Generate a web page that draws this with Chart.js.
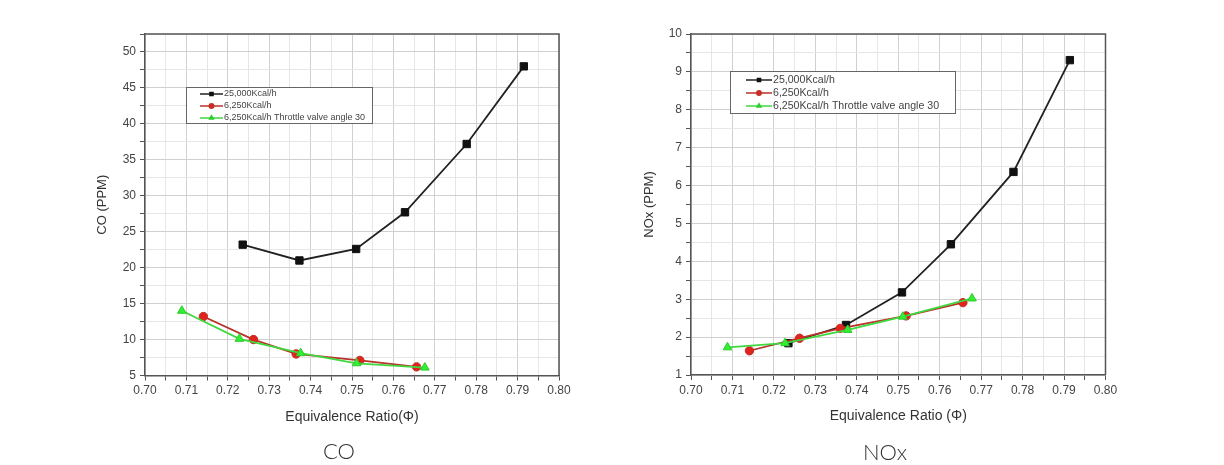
<!DOCTYPE html>
<html>
<head>
<meta charset="utf-8">
<script src="https://cdn.jsdelivr.net/npm/chart.js@4/dist/chart.umd.min.js"></script>
<style>
  body { margin: 0; background: #fff; width: 1224px; height: 465px; overflow: hidden; position: relative; }
  canvas { position: absolute; top: 0; }
  #coChart { left: 0; }
  #noxChart { left: 612px; }
  .cap { position: absolute; font-family: Lato, "Noto Sans", sans-serif; font-weight: 300; font-size: 22px; color: #333; transform: translate(-50%, -50%); }
</style>
</head>
<body>
<canvas id="coChart" width="612" height="465"></canvas>
<canvas id="noxChart" width="612" height="465"></canvas>
<div class="cap" style="left:339px;top:450px">CO</div>
<div class="cap" style="left:885px;top:451px">NOx</div>
<script>
// series labels
const seriesNames = ['25,000Kcal/h', '6,250Kcal/h', '6,250Kcal/h Throttle valve angle 30'];

// CO chart
const coPhi25 = [0.7236, 0.7373, 0.7510, 0.7628, 0.7777, 0.7915];
const co25 = [23.2, 21.0, 22.6, 27.7, 37.2, 48.0];
const coPhi6 = [0.7141, 0.7262, 0.7365, 0.7519, 0.7656];
const co6 = [13.2, 10.0, 8.0, 7.1, 6.2];
const coPhiTh = [0.7089, 0.7228, 0.7376, 0.7511, 0.7676];
const coTh = [14.0, 10.1, 8.1, 6.7, 6.1];

// NOx chart
const noxPhi25 = [0.7235, 0.7374, 0.7509, 0.7627, 0.7778, 0.7914];
const nox25 = [1.84, 2.32, 3.18, 4.45, 6.36, 9.31];
const noxPhi6 = [0.7141, 0.7262, 0.7360, 0.7519, 0.7656];
const nox6 = [1.64, 1.97, 2.23, 2.56, 2.91];
const noxPhiTh = [0.7088, 0.7227, 0.7378, 0.7511, 0.7678];
const noxTh = [1.73, 1.84, 2.19, 2.54, 3.02];

const pts = (xs, ys) => xs.map((x, i) => ({ x: x, y: ys[i] }));

const FONT = '"Liberation Sans", Arial, sans-serif';

// frame on top/right + legend box inside the plot
const framePlugin = {
  id: 'frame',
  afterDraw(chart) {
    const { ctx, chartArea: a } = chart;
    ctx.save();
    ctx.strokeStyle = '#555';
    ctx.lineWidth = 1.5;
    ctx.beginPath();
    ctx.moveTo(a.left, a.top);
    ctx.lineTo(a.right, a.top);
    ctx.lineTo(a.right, a.bottom);
    ctx.stroke();

    const lg = chart.options.plugins.boxLegend;
    ctx.fillStyle = '#fff';
    ctx.fillRect(lg.x, lg.y, lg.w, lg.h);
    ctx.strokeStyle = '#666';
    ctx.lineWidth = 1;
    ctx.strokeRect(lg.x + 0.5, lg.y + 0.5, lg.w, lg.h);
    ctx.font = lg.size + 'px ' + FONT;
    ctx.textBaseline = 'middle';
    chart.data.datasets.forEach((ds, i) => {
      const y = lg.y + lg.first + i * lg.row;
      const x0 = lg.x + lg.lineX;
      ctx.strokeStyle = ds.borderColor;
      ctx.lineWidth = 1.5;
      ctx.beginPath();
      ctx.moveTo(x0, y);
      ctx.lineTo(x0 + lg.lineLen, y);
      ctx.stroke();
      ctx.fillStyle = ds.pointBackgroundColor;
      ctx.strokeStyle = ds.pointBorderColor;
      Chart.helpers.drawPoint(ctx, { pointStyle: ds.pointStyle, radius: 2.2, borderWidth: 1 }, x0 + lg.lineLen / 2, y);
      ctx.fillStyle = '#444';
      ctx.fillText(ds.label, x0 + lg.lineLen + 1, y);
    });
    ctx.restore();
  }
};

function makeDatasets(d) {
  return [
    { label: seriesNames[0], data: d[0], borderColor: '#222', backgroundColor: '#111',
      pointBackgroundColor: '#111', pointBorderColor: '#111', pointStyle: 'rect', pointRadius: 5.2, order: 3 },
    { label: seriesNames[1], data: d[1], borderColor: '#b8322a', backgroundColor: '#e0231c',
      pointBackgroundColor: '#e0231c', pointBorderColor: '#c0302a', pointStyle: 'circle', pointRadius: 4.2, order: 2 },
    { label: seriesNames[2], data: d[2], borderColor: '#3fd83f', backgroundColor: '#33ee33',
      pointBackgroundColor: '#33ee33', pointBorderColor: '#2ccc2c', pointStyle: 'triangle', pointRadius: 5, order: 1 }
  ].map(ds => Object.assign(ds, { showLine: true, borderWidth: 1.8, pointBorderWidth: 1, tension: 0 }));
}

function makeChart(id, cfg) {
  const isMajorX = v => Math.round(v * 1000) % 10 === 0;
  return new Chart(document.getElementById(id), {
    type: 'scatter',
    data: { datasets: makeDatasets(cfg.data) },
    options: {
      responsive: false,
      animation: false,
      layout: { padding: cfg.padding },
      plugins: { legend: { display: false }, tooltip: { enabled: false }, boxLegend: cfg.legend },
      scales: {
        x: {
          type: 'linear', min: 0.70, max: 0.80,
          afterFit: s => { s.height = 50; },
          ticks: {
            stepSize: 0.005, maxTicksLimit: 1000, autoSkip: false, maxRotation: 0,
            color: '#444', font: { family: FONT, size: 12 }, padding: 3,
            callback: v => isMajorX(v) ? v.toFixed(2) : ''
          },
          grid: {
            color: c => c.tick && isMajorX(c.tick.value) ? '#d0d0d0' : '#e6e6e6',
            tickColor: '#555', tickLength: 5, lineWidth: 1
          },
          border: { display: true, color: '#555', width: 1.5 },
          title: { display: true, text: cfg.xTitle, color: '#333', font: { family: FONT, size: 14 }, padding: { top: 0, bottom: 0 } }
        },
        y: {
          type: 'linear', min: cfg.yMin, max: cfg.yMax,
          afterFit: s => { s.width = 57; },
          ticks: {
            stepSize: cfg.yMinor, maxTicksLimit: 1000, autoSkip: false,
            color: '#444', font: { family: FONT, size: 12 }, padding: 4,
            callback: v => (Math.abs(v / cfg.yMajor - Math.round(v / cfg.yMajor)) < 1e-6) ? String(v) : ''
          },
          grid: {
            color: c => c.tick && Math.abs(c.tick.value / cfg.yMajor - Math.round(c.tick.value / cfg.yMajor)) < 1e-6 ? '#d0d0d0' : '#e6e6e6',
            tickColor: '#555', tickLength: 5, lineWidth: 1
          },
          border: { display: true, color: '#555', width: 1.5 },
          title: { display: true, text: cfg.yTitle, color: '#333', font: { family: FONT, size: 13 }, padding: { top: cfg.yTitlePad, bottom: 0 } }
        }
      }
    },
    plugins: [framePlugin]
  });
}

makeChart('coChart', {
  data: [pts(coPhi25, co25), pts(coPhi6, co6), pts(coPhiTh, coTh)],
  yMin: 5, yMax: 52.5, yMajor: 5, yMinor: 2.5,
  xTitle: 'Equivalence Ratio(\u03A6)', yTitle: 'CO (PPM)', yTitlePad: 7,
  padding: { left: 88, right: 53, top: 34, bottom: 39.5 },
  legend: { x: 186, y: 87, w: 186, h: 36, first: 7, row: 12, lineX: 14, lineLen: 23, size: 9 }
});

makeChart('noxChart', {
  data: [pts(noxPhi25, nox25), pts(noxPhi6, nox6), pts(noxPhiTh, noxTh)],
  yMin: 1, yMax: 10, yMajor: 1, yMinor: 0.5,
  xTitle: 'Equivalence Ratio (\u03A6)', yTitle: 'NOx (PPM)', yTitlePad: 8,
  padding: { left: 22, right: 118.5, top: 34, bottom: 40 },
  legend: { x: 118, y: 71, w: 225, h: 42, first: 9, row: 13, lineX: 16, lineLen: 26, size: 10.6 }
});
</script>
</body>
</html>
